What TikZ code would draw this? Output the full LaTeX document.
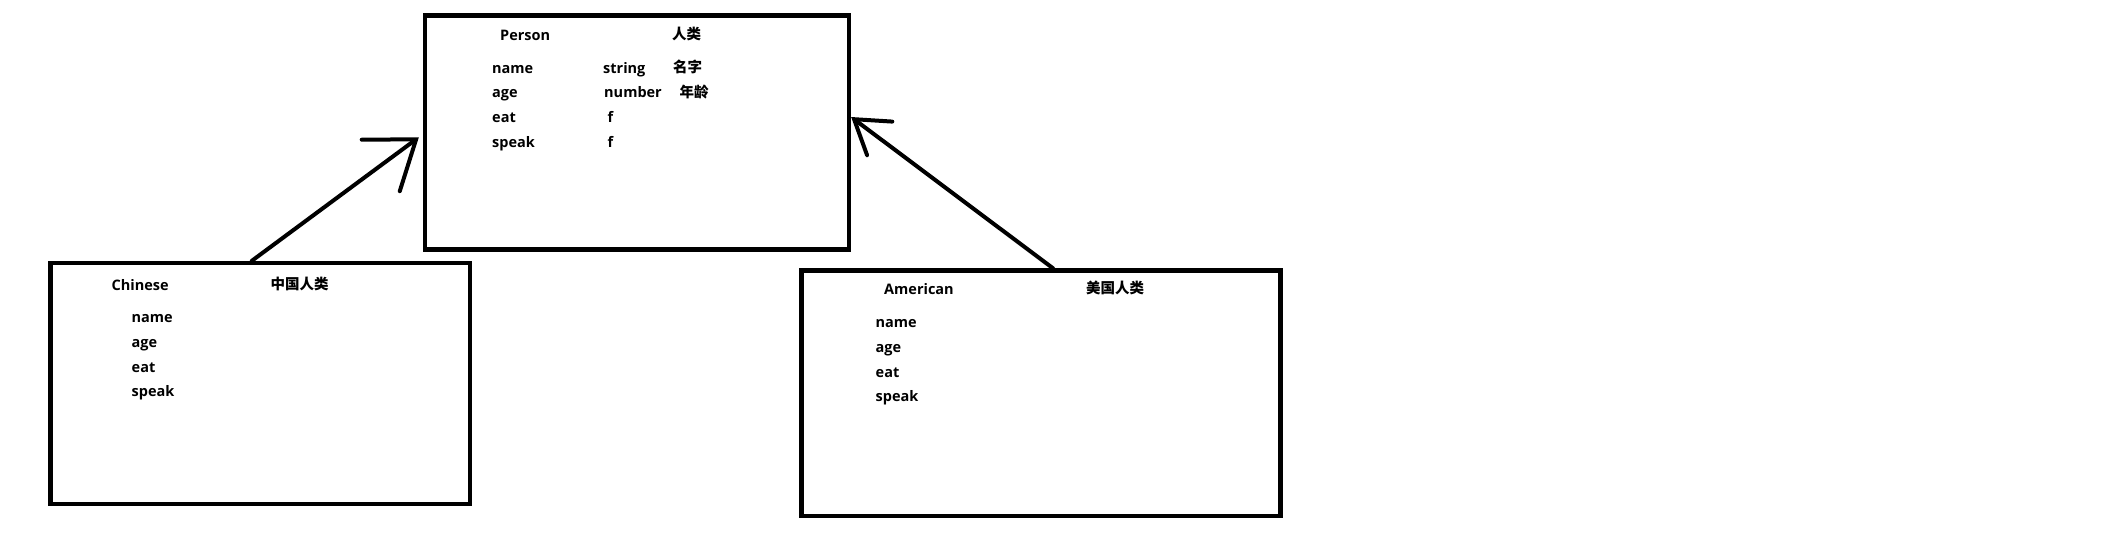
\documentclass[tikz,border=0pt]{standalone}
\usepackage{fontspec}
\setmainfont{Open Sans}
\newfontfamily\cjk{Noto Sans CJK SC}
\usetikzlibrary{arrows.meta,positioning,calc}

\begin{document}
\begin{tikzpicture}[x=1pt, y=-1pt,
      box/.style={
        draw=black, line width=4.3pt, inner sep=0pt
      },
      fld/.style={anchor=base west, inner sep=0pt, font=\fontsize{14.5}{16}\selectfont\bfseries},
      zh/.style={anchor=base west, inner sep=0pt, font=\fontsize{14.5}{16}\selectfont\cjk\bfseries},
      arrow/.style={line width=4pt, line cap=round}
    ]
      \useasboundingbox (0,0) rectangle (2108,536);

      % classes
      \node[box, minimum width=424pt, minimum height=234pt] (psn) at (637,132.5) {};
      \node[box, minimum width=419.5pt, minimum height=241pt] (chn) at (260.25,383.5) {};
      \node[box, minimum width=479pt, minimum height=245.5pt] (amr) at (1041,393.25) {};

      % Person
      \node[fld] (psnname) at (500,40) {Person};
      \node[zh] (psnzh) at (672,39) {人类};
      \node[fld] (pa) at (492,73.3) {name};
      \node[fld] (pb) at (492,97.8) {age};
      \node[fld] (pc) at (492,122.6) {eat};
      \node[fld] (pd) at (492,147.5) {speak};
      \node[fld] (pat) at (603,73.3) {string};
      \node[fld] (pbt) at (604,97.8) {number};
      \node[fld] (pct) at (607.5,122.6) {f};
      \node[fld] (pdt) at (607.5,147.5) {f};
      \node[zh] (pazh) at (673,72.5) {名字};
      \node[zh] (pbzh) at (679.5,97) {年龄};

      % Chinese
      \node[fld] (chnname) at (111.5,290) {Chinese};
      \node[zh] (chnzh) at (270.5,289) {中国人类};
      \node[fld] (ca) at (131.5,322.3) {name};
      \node[fld] (cb) at (131.5,347.2) {age};
      \node[fld] (cc) at (131.5,372.2) {eat};
      \node[fld] (cd) at (131.5,396.8) {speak};

      % American
      \node[fld] (amrname) at (884,294) {American};
      \node[zh] (amrzh) at (1086,293) {美国人类};
      \node[fld] (aa) at (875.5,327.3) {name};
      \node[fld] (ab) at (875.5,352.2) {age};
      \node[fld] (ac) at (875.5,377.2) {eat};
      \node[fld] (ad) at (875.5,401.8) {speak};

      % inheritance
      \draw[arrow, -{Straight Barb[length=44pt, width=64pt, line cap=round]}]
        ($(chn.north west)!0.48!(chn.north east)$) -- ($(psn.north west)!0.52!(psn.south west)+(-4,0)$);
      \draw[arrow, -{Straight Barb[length=32pt, width=42pt, line cap=round]}]
        ($(amr.north west)!0.525!(amr.north east)$) -- ($(psn.north east)!0.435!(psn.south east)$);
    \end{tikzpicture}
\end{document}
